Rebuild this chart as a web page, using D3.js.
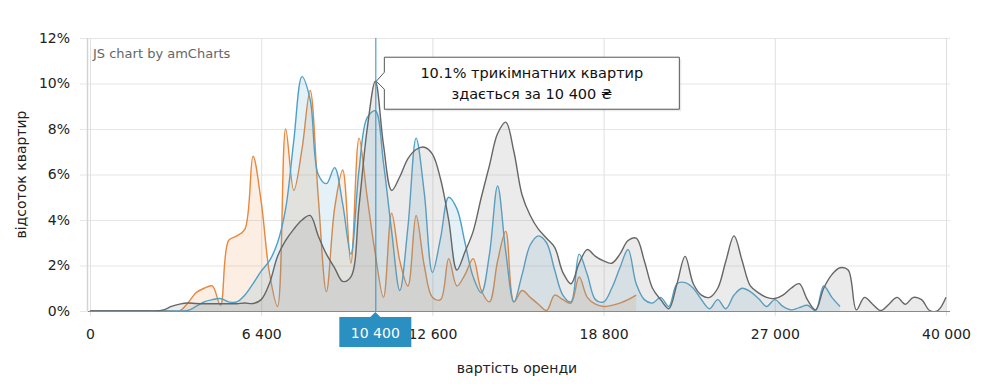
<!DOCTYPE html>
<html>
<head>
<meta charset="utf-8">
<script src="https://cdn.jsdelivr.net/npm/d3@7"></script>
<style>
  body { margin: 0; background: #fff; }
  svg { display: block; font-family: "DejaVu Sans", Verdana, sans-serif; }
</style>
</head>
<body>
<svg id="chart" width="992" height="384"></svg>
<script>
// rent categories (UAH), one data point per category
const categories = [
  0, 300, 600, 900, 1200, 1500, 1800, 2100, 2400, 2700, 3000, 3300, 3600, 3900, 4200, 4500, 4800, 5100, 5400, 5700, 6000,
  6400, 6700, 7000, 7300, 7600, 7900, 8200, 8500, 8800, 9100, 9400, 9700, 10000, 10200,
  10400, 10700, 11000, 11300, 11600, 11900, 12200,
  12600, 12900, 13200, 13500, 13800, 14100, 14400, 14700, 15000, 15300, 15600, 15900, 16200, 16500, 16800, 17100, 17400, 17700, 18000, 18300, 18500,
  18800, 19200, 19600, 20000, 20400, 20800, 21200, 21600, 22000, 22400, 22800, 23200, 23600, 24000, 24400, 24800, 25200, 25600, 26000, 26400, 26700,
  27000, 27600, 28200, 28800, 29400, 30000, 30600, 31200, 31800, 32400, 33000, 33600, 34200, 34800, 35400, 36000, 36600, 37200, 37800, 38400, 39200,
  40000
];

// share of flats, %
const oneRoom = [
  0, 0, 0, 0, 0, 0, 0, 0, 0, 0, 0, 0,
  0.35, 0.8, 1.0, 1.1, 0.25, 3.1, 3.3, 3.6,
  6.8, 4.8, 1.7, 0.2, 8.0, 5.3, 7.1, 9.7, 5.0, 0.85,
  4.5, 6.2, 2.1, 7.6, 5.0, 2.5, 0.6, 4.3, 2.2, 1.1,
  4.2, 2.0, 0.6, 0.5, 2.3, 1.1, 1.6, 2.3, 0.9, 0.4,
  2.2, 3.5, 0.4, 0.9, 0.6, 0.3, 0.02, 0.7, 0.5, 0.35,
  1.5, 0.6, 0.3, 0.2, 0.25, 0.35, 0.5, 0.7,
  null, null, null, null, null, null, null, null, null, null, null, null, null, null, null, null, null, null, null,
  null, null, null, null, null, null, null, null, null, null, null, null, null, null, null, null, null, null, null
];

const twoRoom = [
  0, 0, 0, 0, 0, 0, 0, 0, 0, 0, 0, 0,
  0.02, 0.2, 0.4, 0.5, 0.55, 0.4, 0.4, 0.7,
  1.2, 1.75, 2.2, 3.0, 4.5, 7.5, 10.3, 9.3, 6.0, 5.6,
  6.3, 4.7, 2.5, 6.2, 8.5, 8.8, 6.5, 3.5, 0.9, 3.7,
  7.6, 5.2, 1.7, 3.2, 5.0, 4.5, 3.0, 1.5, 0.8, 2.5,
  5.5, 2.6, 0.4, 1.6, 2.9, 3.3, 3.0, 1.8, 0.7, 0.4,
  2.5, 1.6, 0.5, 0.4, 1.0, 1.9, 2.7, 1.2, 0.5, 0.35,
  0.6, 0.2, 1.2, 1.25, 1.0, 0.5, 0.1, 0.5, 0.1, 0.7,
  1.0, 0.85, 0.55, 0.2, 0.5, 0.2, 0.05, 0.15, 0.25, 0.02,
  1.1, 0.6, 0.2,
  null, null, null, null, null, null, null, null, null, null, null, null, null
];

const threeRoom = [
  0, 0, 0, 0, 0, 0, 0, 0, 0,
  0.05, 0.2, 0.3, 0.35, 0.33, 0.32, 0.32, 0.32, 0.32, 0.32, 0.35,
  0.33, 0.5, 1.2, 2.4, 3.1, 3.6, 4.0, 4.2, 3.3, 2.5,
  1.9, 1.3, 1.5, 4.6, 8.0, 10.1, 7.3, 5.3, 5.9, 6.7,
  7.1, 7.2, 6.9, 5.8, 4.0, 1.8, 2.6, 3.5, 5.0, 6.4,
  7.8, 8.3, 7.0, 5.1, 4.2, 3.6, 3.2, 2.8, 1.7, 1.2,
  2.1, 2.7, 2.4, 2.2, 2.1, 2.5, 3.1, 3.2, 2.2, 1.0,
  0.5, 0.1, 1.2, 2.4, 1.2, 0.7, 0.6, 1.0, 2.2, 3.3,
  2.2, 1.1, 0.8, 0.6, 0.55, 0.7, 1.0, 1.2, 0.5, 0.05,
  1.0, 1.6, 1.9, 1.8, 0.05, 0.6, 0.3, 0.02, 0.3, 0.6,
  0.3, 0.6, 0.5, 0.02, 0.02, 0.6
];

const yTicks = [0, 2, 4, 6, 8, 10, 12];
const labelEvery = 21;
const cursorRent = 10400;

const series = [
  { name: "однокімнатних", values: oneRoom, line: "#e8873d", fill: "#ee8a3c", opacity: 0.15 },
  { name: "двокімнатних", values: twoRoom, line: "#4fa0c8", fill: "#4aa0c8", opacity: 0.15 },
  { name: "трикімнатних", values: threeRoom, line: "#666666", fill: "#8f8f8f", opacity: 0.18 }
];

const svg = d3.select("#chart");
const plotLeft = 88, plotRight = 950, plotTop = 38, plotBottom = 311;

const x = d3.scalePoint()
  .domain(categories)
  .range([90, 946]);

const y = d3.scaleLinear()
  .domain([0, 12])
  .range([plotBottom, plotTop]);

const uaLocale = d3.formatLocale({ decimal: ".", thousands: " ", grouping: [3], currency: ["", " ₴"] });
const fmtRent = uaLocale.format(",");

svg.append("defs").append("clipPath").attr("id", "plot")
  .append("rect")
  .attr("x", plotLeft).attr("y", plotTop)
  .attr("width", plotRight - plotLeft).attr("height", plotBottom - plotTop + 0.5);

// horizontal grid + y labels
const yAxis = svg.append("g")
  .attr("transform", "translate(80,0)")
  .call(d3.axisLeft(y).tickValues(yTicks).tickSize(-(plotRight - 80)).tickPadding(10).tickFormat(d => d + "%"));
yAxis.select(".domain").remove();
yAxis.selectAll("line").attr("stroke", "#e6e6e6");
yAxis.selectAll("text").attr("font-size", 14).attr("fill", "#222");
yAxis.attr("font-family", null).attr("font-size", null);

// vertical grid + x labels
const xAxis = svg.append("g")
  .attr("transform", "translate(0," + (plotBottom + 5) + ")")
  .call(d3.axisBottom(x)
    .tickValues(categories.filter((d, i) => i % labelEvery === 0))
    .tickSize(-(plotBottom + 5 - plotTop))
    .tickPadding(13)
    .tickFormat(fmtRent));
xAxis.select(".domain").remove();
xAxis.selectAll("line").attr("stroke", "#e0e0e0");
xAxis.selectAll("text").attr("font-size", 14).attr("fill", "#222");
xAxis.attr("font-family", null).attr("font-size", null);

// left axis line
svg.append("line")
  .attr("x1", plotLeft - 0.5).attr("x2", plotLeft - 0.5)
  .attr("y1", plotTop).attr("y2", plotBottom)
  .attr("stroke", "#d4d4d4").attr("stroke-width", 1.5);

svg.append("text")
  .attr("x", 93).attr("y", 57.5)
  .attr("font-size", 13).attr("fill", "#666")
  .text("JS chart by amCharts");

// series
const curve = d3.curveCatmullRom.alpha(0.5);

const area = d3.area()
  .defined(d => d.v != null)
  .x(d => x(d.c))
  .y0(y(0))
  .y1(d => y(d.v))
  .curve(curve);

const line = d3.line()
  .defined(d => d.v != null)
  .x(d => x(d.c))
  .y(d => y(d.v))
  .curve(curve);

const plot = svg.append("g").attr("clip-path", "url(#plot)");

series.forEach(s => {
  const pts = s.values.map((v, i) => ({ c: categories[i], v: v }));
  plot.append("path")
    .datum(pts)
    .attr("d", area)
    .attr("fill", s.fill)
    .attr("fill-opacity", s.opacity);
  plot.append("path")
    .datum(pts)
    .attr("d", line)
    .attr("fill", "none")
    .attr("stroke", s.line)
    .attr("stroke-width", 1.4);
});

// bottom axis line
svg.append("line")
  .attr("x1", plotLeft).attr("x2", plotRight)
  .attr("y1", plotBottom + 0.5).attr("y2", plotBottom + 0.5)
  .attr("stroke", "#8a8a8a").attr("stroke-width", 1);

// axis titles
svg.append("text")
  .attr("x", 517).attr("y", 373)
  .attr("text-anchor", "middle")
  .attr("font-size", 14).attr("fill", "#222")
  .text("вартість оренди");

svg.append("text")
  .attr("transform", "translate(26," + ((plotTop + plotBottom) / 2) + ") rotate(-90)")
  .attr("text-anchor", "middle")
  .attr("font-size", 14).attr("fill", "#222")
  .text("відсоток квартир");

// cursor
const ci = categories.indexOf(cursorRent);
const cx = x(cursorRent);
const cursorColor = "#2a8fc1";

svg.append("line")
  .attr("x1", cx + 0.5).attr("x2", cx + 0.5)
  .attr("y1", plotTop).attr("y2", plotBottom)
  .attr("stroke", cursorColor).attr("stroke-width", 1);

const cat = svg.append("g").attr("transform", "translate(" + cx + "," + plotBottom + ")");
cat.append("path")
  .attr("d", "M-36,6 L-5,6 L0,1 L5,6 L36,6 L36,36 L-36,36 Z")
  .attr("fill", cursorColor);
cat.append("text")
  .attr("y", 27)
  .attr("text-anchor", "middle")
  .attr("font-size", 14).attr("fill", "#fff")
  .text(fmtRent(cursorRent));

// balloon for the three-room series
const bv = threeRoom[ci];
const bx = cx + 1, by = y(bv);
const bw = 295, bh = 52;
const bl = bx + 8, bt = by - 24;
const balloon = "M" + bl + "," + bt +
  " L" + (bl + bw) + "," + bt +
  " L" + (bl + bw) + "," + (bt + bh) +
  " L" + bl + "," + (bt + bh) +
  " L" + bl + "," + (by + 8) +
  " L" + bx + "," + by +
  " L" + bl + "," + (by - 9) + " Z";

svg.append("path")
  .attr("d", balloon)
  .attr("transform", "translate(2,2)")
  .attr("fill", "#000").attr("fill-opacity", 0.08);
svg.append("path")
  .attr("d", balloon)
  .attr("fill", "#fff")
  .attr("stroke", "#555").attr("stroke-width", 1);

const bt1 = svg.append("text")
  .attr("text-anchor", "middle")
  .attr("font-size", 14.5).attr("fill", "#111");
bt1.append("tspan")
  .attr("x", bl + bw / 2).attr("y", bt + 21)
  .text(bv + "% " + series[2].name + " квартир");
bt1.append("tspan")
  .attr("x", bl + bw / 2).attr("y", bt + 42)
  .text("здається за " + fmtRent(cursorRent) + " ₴");
</script>
</body>
</html>
